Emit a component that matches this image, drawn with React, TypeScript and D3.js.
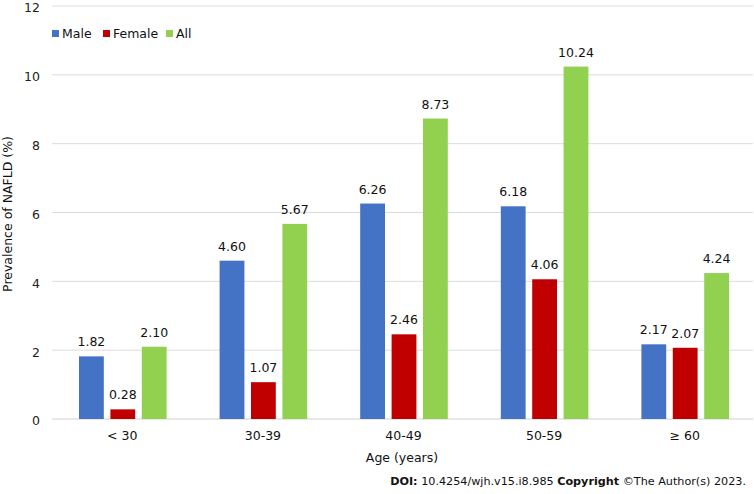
import React from "react";
import * as d3 from "d3";

const categories = ["< 30", "30-39", "40-49", "50-59", "≥ 60"];
const seriesNames = ["Male", "Female", "All"];
const maleValues = [1.82, 4.6, 6.26, 6.18, 2.17];
const femaleValues = [0.28, 1.07, 2.46, 4.06, 2.07];
const allValues = [2.1, 5.67, 8.73, 10.24, 4.24];
const yTicks = [0, 2, 4, 6, 8, 10, 12];
const colors = ["#4472C4", "#C00000", "#92D050"];

const W = 754;
const H = 494;
const FONT = "'DejaVu Sans', Verdana, sans-serif";

export default function App() {
  const series = [maleValues, femaleValues, allValues];
  const x = d3.scaleBand<string>().domain(categories).range([52, 755]).paddingInner(0).paddingOuter(0);
  const groupPad = 27;
  const inner = d3
    .scaleBand<string>()
    .domain(seriesNames)
    .range([groupPad, x.bandwidth() - groupPad + 1])
    .paddingInner(0.21)
    .paddingOuter(0);
  const y = d3.scaleLinear().domain([0, 12]).range([419, 6]);

  return (
    <svg
      width={W}
      height={H}
      style={{ position: "absolute", left: 0, top: 0, background: "#fff", display: "block" }}
      fontFamily={FONT}
    >
      <rect x={0} y={0} width={W} height={H} fill="#fff" />
      {yTicks.map((t) => (
        <g key={t}>
          <line x1={52} x2={753} y1={y(t)} y2={y(t)} stroke={t === 0 ? "#d0d0d0" : "#dcdcdc"} strokeWidth={1} />
          <text x={40} y={y(t) + 2} dy="0.35em" textAnchor="end" fontSize={12.5} fill="#222">
            {t}
          </text>
        </g>
      ))}
      {categories.map((c, i) => (
        <g key={c} transform={`translate(${x(c)},0)`}>
          {seriesNames.map((s, j) => {
            const v = series[j][i];
            const bx = inner(s)!;
            return (
              <g key={s}>
                <rect x={bx} y={y(v)} width={inner.bandwidth()} height={y(0) - y(v)} fill={colors[j]} />
                <text
                  x={bx + inner.bandwidth() / 2}
                  y={y(v) - 10}
                  textAnchor="middle"
                  fontSize={12.5}
                  fill="#111"
                >
                  {v.toFixed(2)}
                </text>
              </g>
            );
          })}
          <text x={x.bandwidth() / 2} y={440} textAnchor="middle" fontSize={12.5} fill="#111">
            {c}
          </text>
        </g>
      ))}
      <text x={402} y={462} textAnchor="middle" fontSize={12.5} fill="#111">
        Age (years)
      </text>
      <text
        transform={`translate(12,214) rotate(-90)`}
        textAnchor="middle"
        fontSize={12.5}
        fill="#111"
      >
        Prevalence of NAFLD (%)
      </text>
      {/* Legend */}
      {seriesNames.map((s, j) => {
        const lx = [52, 103, 166][j];
        return (
          <g key={s}>
            <rect x={lx} y={30} width={7} height={7} fill={colors[j]} />
            <text x={lx + 10} y={33.5} dy="0.35em" fontSize={12.5} fill="#111">
              {s}
            </text>
          </g>
        );
      })}
      <text x={746} y={485} textAnchor="end" fontSize={11.2} fill="#111">
        <tspan fontWeight="bold">DOI:</tspan>
        <tspan> 10.4254/wjh.v15.i8.985 </tspan>
        <tspan fontWeight="bold">Copyright</tspan>
        <tspan> ©The Author(s) 2023.</tspan>
      </text>
    </svg>
  );
}
